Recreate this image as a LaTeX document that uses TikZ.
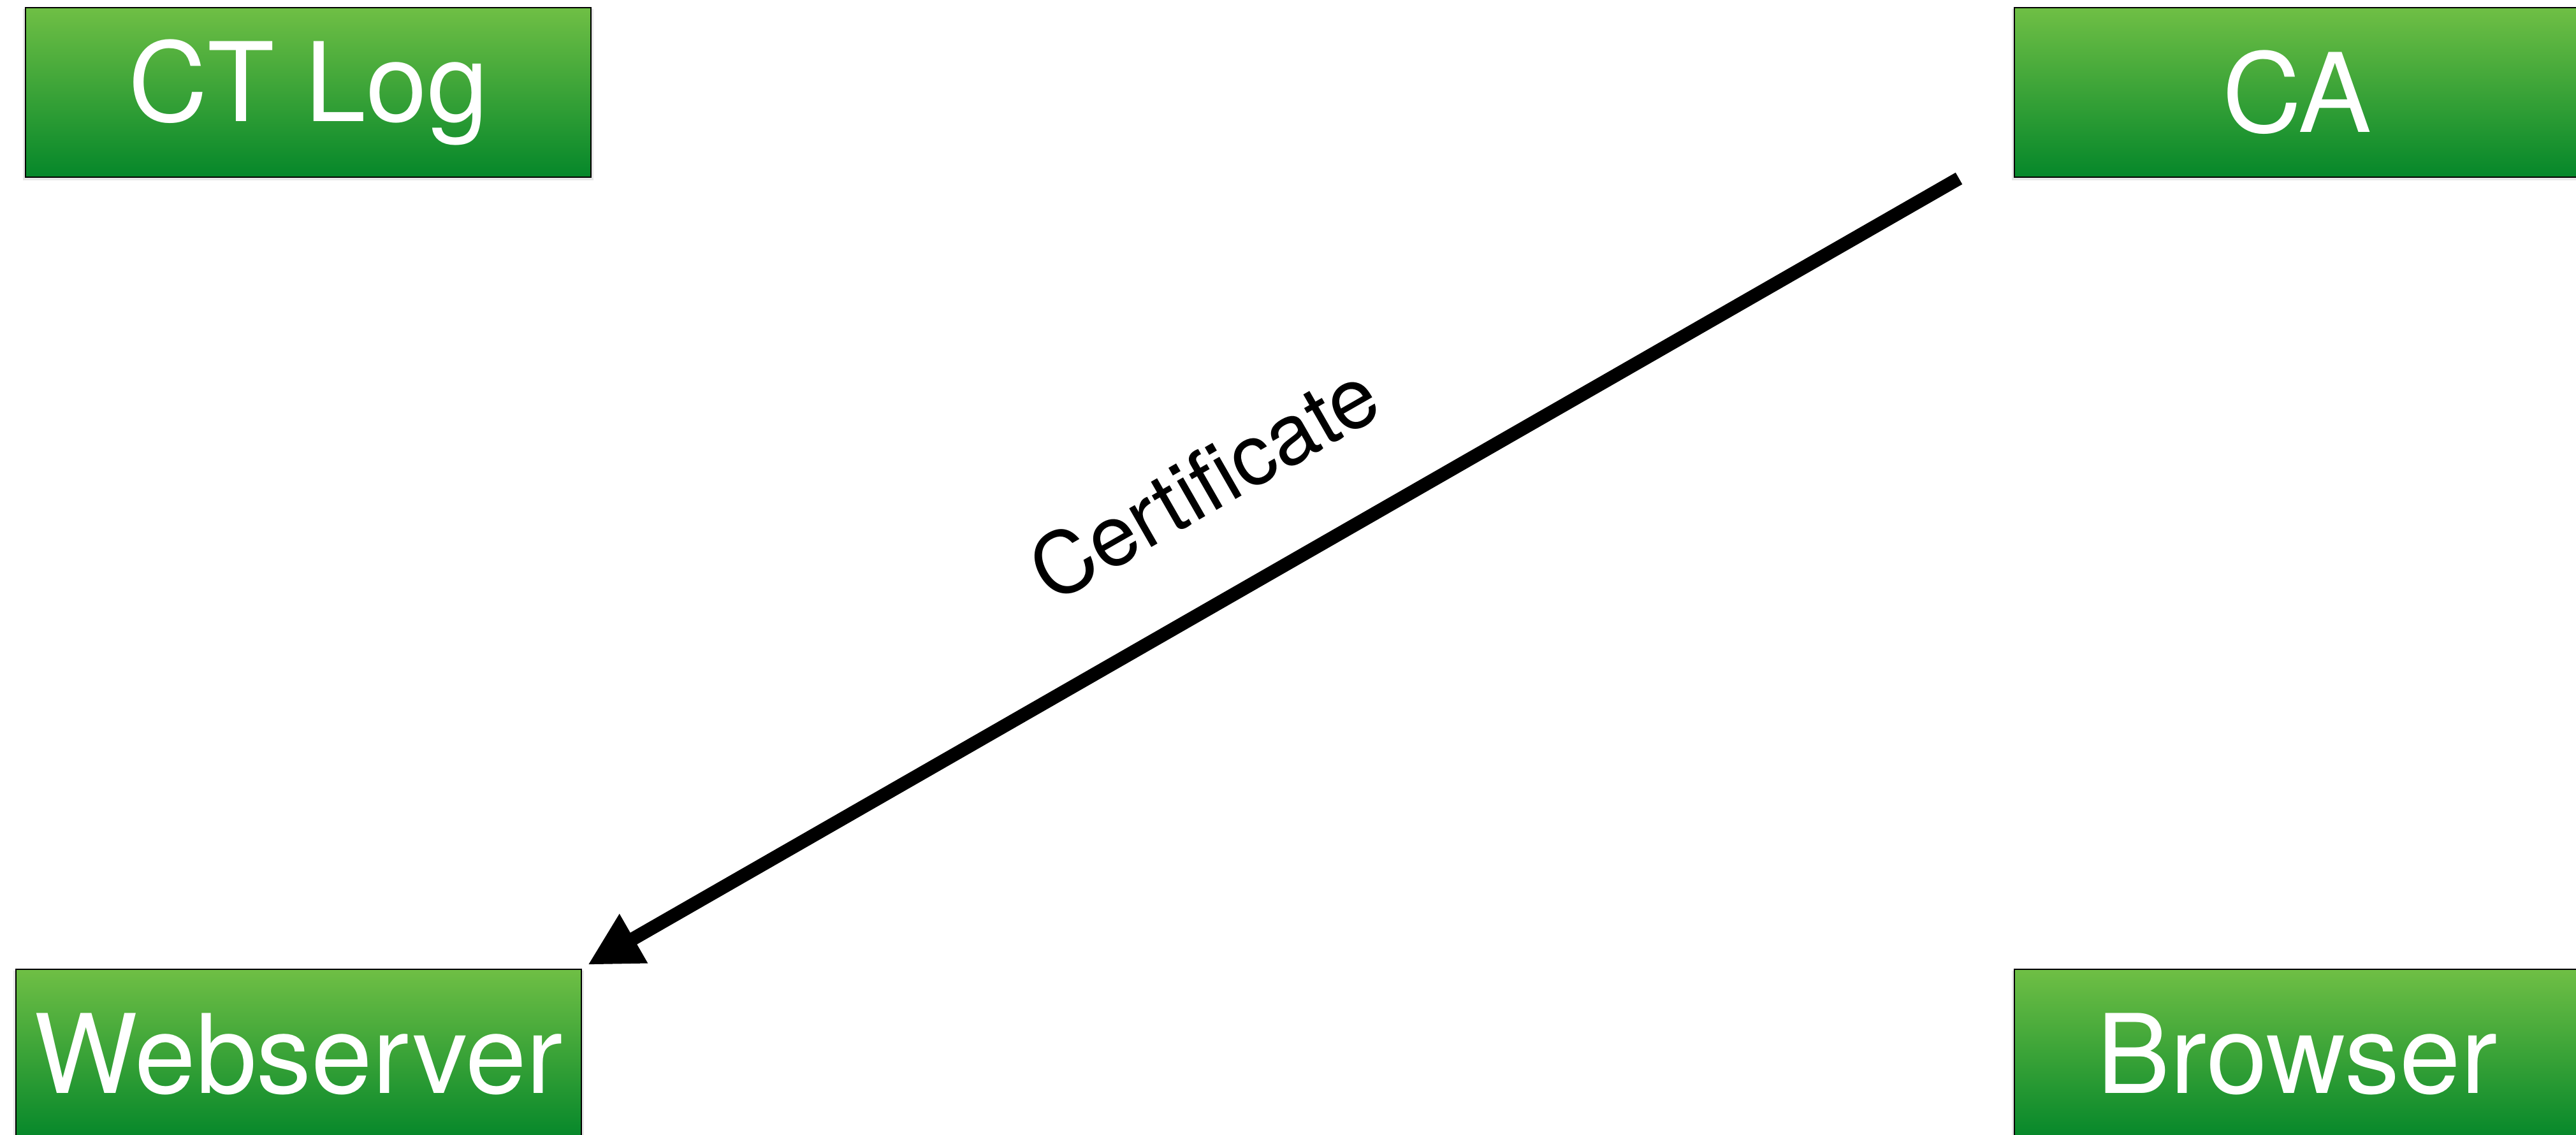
\documentclass[tikz,border=0pt]{standalone}
\usepackage{fontspec}
\setmainfont{TeX Gyre Heros}
\usetikzlibrary{arrows.meta,positioning,shadows}
\definecolor{boxtop}{RGB}{111,191,69}
\definecolor{boxbottom}{RGB}{5,135,42}

\begin{document}
\begin{tikzpicture}[x=1cm,y=1cm]
\tikzset{
  hostbox/.style={rectangle,draw=black,line width=0.6pt,top color=boxtop,bottom color=boxbottom,
    minimum width=8.87cm,minimum height=2.66cm,inner sep=0pt,text=white,
    font=\fontsize{49}{58}\selectfont,
    drop shadow={shadow xshift=0pt,shadow yshift=-1pt,opacity=0.18,shadow scale=1.01}},
  msgedge/.style={draw=black,line width=6pt,line cap=butt,-{Triangle[length=8.3mm,width=8.3mm]}},
  msglabel/.style={font=\fontsize{38}{46}\selectfont,inner sep=0pt}
}
\clip (0,0) rectangle (40.41,17.81);
\node[hostbox] (n_CTLog) at (4.835,16.36) {CT Log};
\node[hostbox] (n_CA) at (36.035,16.36) {CA};
\node[hostbox] (n_Web) at (4.685,1.27) {Webserver};
\node[hostbox] (n_Browser) at (36.035,1.27) {Browser};
\coordinate (c_certout) at (30.73,15.01);
\coordinate (c_certin) at (9.22,2.67);
\draw[msgedge] (c_certout) -- node[msglabel,pos=0.51,sloped,above=1.15cm] {Certificate} (c_certin);
\end{tikzpicture}
\end{document}
